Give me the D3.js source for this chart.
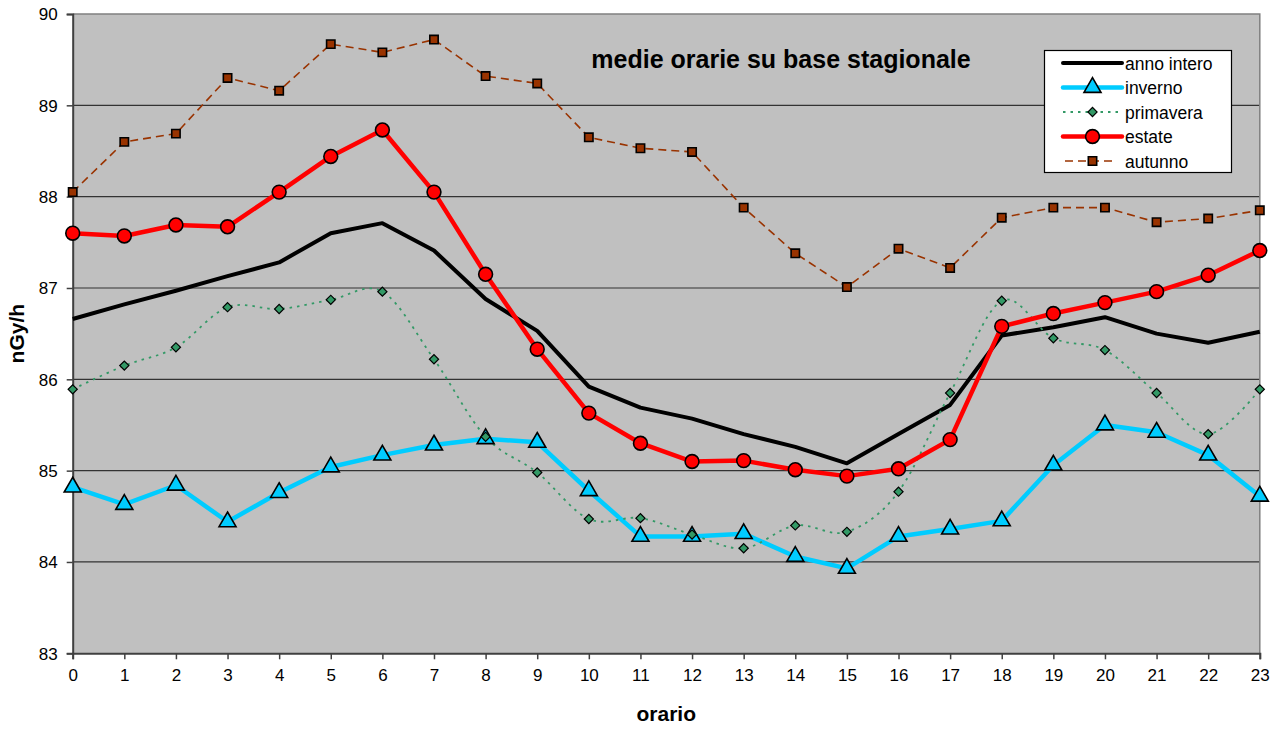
<!DOCTYPE html>
<html>
<head>
<meta charset="utf-8">
<script src="https://cdn.jsdelivr.net/npm/d3@7"></script>
<style>
  html, body { margin: 0; padding: 0; background: #fff; }
  svg { display: block; font-family: "Liberation Sans", Arial, sans-serif; }
</style>
</head>
<body>
<svg id="chart" width="1284" height="731"></svg>
<script>
const hours = d3.range(0, 24);
const yTicks = [83, 84, 85, 86, 87, 88, 89, 90];
const title = "medie orarie su base stagionale";
const xTitle = "orario";
const yTitle = "nGy/h";

const annoIntero = [86.66, 86.82, 86.97, 87.13, 87.28, 87.60, 87.71, 87.41, 86.88, 86.53, 85.92, 85.69, 85.57, 85.40, 85.26, 85.08, 85.40, 85.72, 86.48, 86.57, 86.68, 86.50, 86.40, 86.52];
const inverno    = [84.82, 84.63, 84.84, 84.44, 84.76, 85.04, 85.17, 85.28, 85.35, 85.31, 84.78, 84.28, 84.28, 84.31, 84.06, 83.93, 84.28, 84.36, 84.45, 85.06, 85.50, 85.42, 85.17, 84.72];
const primavera  = [85.89, 86.15, 86.35, 86.79, 86.77, 86.87, 86.96, 86.22, 85.37, 84.98, 84.47, 84.48, 84.30, 84.15, 84.40, 84.33, 84.77, 85.85, 86.86, 86.45, 86.32, 85.85, 85.40, 85.89];
const estate     = [87.60, 87.57, 87.69, 87.67, 88.05, 88.44, 88.73, 88.05, 87.15, 86.33, 85.63, 85.30, 85.10, 85.11, 85.01, 84.94, 85.02, 85.34, 86.58, 86.72, 86.84, 86.96, 87.14, 87.41];
const autunno    = [88.05, 88.60, 88.69, 89.30, 89.16, 89.67, 89.58, 89.72, 89.32, 89.24, 88.65, 88.53, 88.49, 87.88, 87.38, 87.01, 87.43, 87.22, 87.77, 87.88, 87.88, 87.72, 87.76, 87.85];

const seriesNames = ["anno intero", "inverno", "primavera", "estate", "autunno"];
const seriesValues = [annoIntero, inverno, primavera, estate, autunno];

const styles = {
  "anno intero": { color: "#000000", width: 4, dash: null, marker: null, curve: d3.curveLinear },
  "inverno":     { color: "#00CCFF", width: 4.5, dash: null, marker: "triangle", fill: "#00CCFF", size: 125, curve: d3.curveLinear },
  "primavera":   { color: "#339966", width: 1.8, dash: "2.5,5", marker: "diamond", fill: "#339966", size: 42, curve: d3.curveCardinal.tension(0) },
  "estate":      { color: "#FF0000", width: 4.5, dash: null, marker: "circle", fill: "#FF0000", size: 150, curve: d3.curveLinear },
  "autunno":     { color: "#993300", width: 1.6, dash: "8,5", marker: "square", fill: "#993300", size: 70, curve: d3.curveLinear }
};

const svg = d3.select("#chart");
const margin = { left: 72.7, right: 1259.8, top: 14, bottom: 653.3 };

const x = d3.scaleLinear().domain([0, 23]).range([margin.left, margin.right]);
const y = d3.scaleLinear().domain([83, 90]).range([margin.bottom, margin.top]);

// plot background
svg.append("rect")
  .attr("x", margin.left).attr("y", margin.top)
  .attr("width", margin.right - margin.left)
  .attr("height", margin.bottom - margin.top)
  .attr("fill", "#C0C0C0");

// gridlines
svg.append("g").selectAll("line")
  .data(yTicks.filter(d => d > 83 && d < 90))
  .join("line")
  .attr("x1", margin.left).attr("x2", margin.right)
  .attr("y1", d => y(d)).attr("y2", d => y(d))
  .attr("stroke", "#333").attr("stroke-width", 1.2);

// top and right border
svg.append("path")
  .attr("d", `M${margin.left},${margin.top}H${margin.right}V${margin.bottom}`)
  .attr("fill", "none").attr("stroke", "#808080").attr("stroke-width", 1.5);

// axes
const yAxis = d3.axisLeft(y).tickValues(yTicks).tickSize(6).tickPadding(9).tickFormat(d3.format("d"));
const gy = svg.append("g").attr("transform", `translate(${margin.left},0)`).call(yAxis);
const xAxis = d3.axisBottom(x).tickValues(hours).tickSize(6).tickPadding(10).tickFormat(d3.format("d"));
const gx = svg.append("g").attr("transform", `translate(0,${margin.bottom})`).call(xAxis);
[gx, gy].forEach(g => {
  g.select(".domain").attr("stroke", "#404040").attr("stroke-width", 2);
  g.selectAll(".tick line").attr("stroke", "#404040").attr("stroke-width", 1.5);
  g.selectAll(".tick text").attr("font-size", 17).attr("fill", "#000")
    .attr("font-family", "Liberation Sans, Arial, sans-serif");
});
gy.selectAll(".tick text").attr("dy", "0.34em");

// axis titles
svg.append("text").attr("x", x(11.5)).attr("y", 721)
  .attr("text-anchor", "middle").attr("font-size", 21).attr("font-weight", "bold").text(xTitle);
svg.append("text").attr("transform", `translate(24,${y(86.5)}) rotate(-90)`)
  .attr("text-anchor", "middle").attr("font-size", 21).attr("font-weight", "bold").text(yTitle);

// chart title
svg.append("text").attr("x", 781).attr("y", 68)
  .attr("text-anchor", "middle").attr("font-size", 25).attr("font-weight", "bold").text(title);

const symbolType = {
  triangle: d3.symbolTriangle,
  diamond: d3.symbolSquare,
  circle: d3.symbolCircle,
  square: d3.symbolSquare
};

function drawMarker(g, st, cx, cy) {
  const sym = d3.symbol().type(symbolType[st.marker]).size(st.size);
  return g.append("path")
    .attr("d", sym())
    .attr("fill", st.fill)
    .attr("stroke", "#000").attr("stroke-width", st.marker === "diamond" ? 1.2 : 1.6)
    .attr("transform", `translate(${cx},${cy})` + (st.marker === "diamond" ? " rotate(45)" : ""));
}

// series
const plot = svg.append("g");
seriesNames.forEach((name, i) => {
  const st = styles[name];
  const vals = seriesValues[i];
  const line = d3.line().x((d, j) => x(hours[j])).y(d => y(d)).curve(st.curve);
  plot.append("path")
    .attr("d", line(vals))
    .attr("fill", "none")
    .attr("stroke", st.color)
    .attr("stroke-width", st.width)
    .attr("stroke-linejoin", "round")
    .attr("stroke-dasharray", st.dash);
});
seriesNames.forEach((name, i) => {
  const st = styles[name];
  if (!st.marker) return;
  const g = plot.append("g");
  seriesValues[i].forEach((v, j) => drawMarker(g, st, x(hours[j]), y(v)));
});

// legend
const lg = svg.append("g");
lg.append("rect").attr("x", 1044.5).attr("y", 50.5).attr("width", 187).attr("height", 122)
  .attr("fill", "#fff").attr("stroke", "#000").attr("stroke-width", 1.2);
const rowY = [63, 87.5, 112, 136.5, 161];
seriesNames.forEach((name, i) => {
  const st = styles[name];
  const yy = rowY[i];
  lg.append("line").attr("x1", name === "autunno" ? 1065 : 1063).attr("x2", name === "autunno" ? 1116 : 1122)
    .attr("y1", yy).attr("y2", yy)
    .attr("stroke", st.color).attr("stroke-width", st.width)
    .attr("stroke-linecap", st.dash ? "butt" : "round")
    .attr("stroke-dasharray", st.dash);
  if (st.marker) drawMarker(lg, st, 1092.5, yy);
  lg.append("text").attr("x", 1125).attr("y", yy + 6.5).attr("font-size", 17.5).text(name);
});
</script>
</body>
</html>
